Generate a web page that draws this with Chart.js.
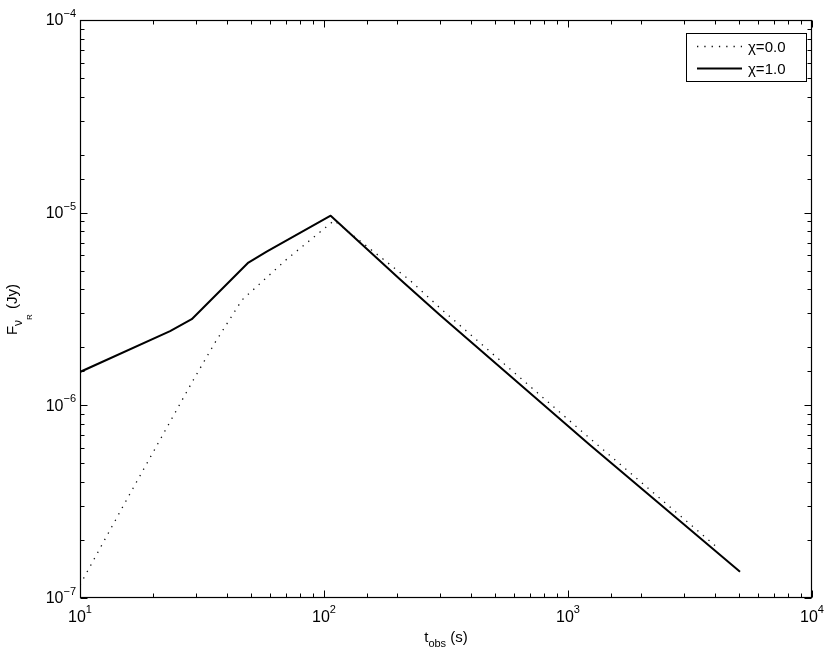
<!DOCTYPE html>
<html><head><meta charset="utf-8">
<style>html,body{margin:0;padding:0;background:#fff}canvas{display:block}</style>
<script src="https://cdn.jsdelivr.net/npm/chart.js@4"></script>
</head><body>
<canvas id="c" width="830" height="655" style="width:830px;height:655px"></canvas>
<script>
// ---- data ----
const tChi0 = [10, 15.24, 29.0, 35.7, 46.1, 70.3, 110, 224, 303, 1175, 4150];
const fChi0 = [1.17e-7, 3.10e-7, 1.34e-6, 2.11e-6, 3.52e-6, 5.73e-6, 9.1e-6, 4.48e-6, 3.15e-6, 7.08e-7, 1.80e-7];
const tChi1 = [10, 23.4, 28.7, 49.0, 58.2, 106.5, 204.7, 298.5, 1230, 5070];
const fChi1 = [1.49e-6, 2.43e-6, 2.80e-6, 5.51e-6, 6.28e-6, 9.65e-6, 4.51e-6, 2.94e-6, 6.23e-7, 1.37e-7];
const seriesLabels = ['\u03C7=0.0', '\u03C7=1.0'];
const xTickExponents = ['1', '2', '3', '4'];
const yTickExponents = ['\u22127', '\u22126', '\u22125', '\u22124'];
const xMin = 10, xMax = 1e4, yMin = 1e-7, yMax = 1e-4;

const FONT = '"Liberation Sans", Arial, Helvetica, sans-serif';
const toPts = (ts, fs) => ts.map((t, i) => ({x: t, y: fs[i]}));

function isDecade(v) {
  const l = Math.log10(v);
  return Math.abs(l - Math.round(l)) < 1e-9;
}

const framePlugin = {
  id: 'matlabFrame',
  afterDraw(chart) {
    const ctx = chart.ctx;
    const a = chart.chartArea;
    const xs = chart.scales.x, ys = chart.scales.y;
    const L = Math.round(a.left) + 0.5, R = Math.round(a.right) - 0.5;
    const T = Math.round(a.top) + 0.5, B = Math.round(a.bottom) - 0.5;
    ctx.save();
    ctx.strokeStyle = '#000';
    ctx.lineWidth = 1.2;
    ctx.setLineDash([]);
    ctx.strokeRect(L, T, R - L, B - T);
    // ticks (inward, on all four sides)
    ctx.lineWidth = 1;
    ctx.beginPath();
    xs.ticks.forEach(tk => {
      const v = tk.value;
      if (v < xMin || v > xMax) return;
      const px = Math.round(xs.getPixelForValue(v)) + 0.5;
      const len = isDecade(v) ? 7 : 4;
      ctx.moveTo(px, B); ctx.lineTo(px, B - len);
      ctx.moveTo(px, T); ctx.lineTo(px, T + len);
    });
    ys.ticks.forEach(tk => {
      const v = tk.value;
      if (v < yMin * 0.999 || v > yMax * 1.001) return;
      const py = Math.round(ys.getPixelForValue(v)) + 0.5;
      const len = isDecade(v) ? 7 : 4;
      ctx.moveTo(L, py); ctx.lineTo(L + len, py);
      ctx.moveTo(R, py); ctx.lineTo(R - len, py);
    });
    ctx.stroke();

    // tick labels 10^n
    ctx.fillStyle = '#000';
    ctx.textBaseline = 'middle';
    ctx.textAlign = 'left';
    const baseFont = '16px ' + FONT, expFont = '11px ' + FONT;
    xTickExponents.forEach(e => {
      const v = Math.pow(10, Number(e));
      const px = xs.getPixelForValue(v);
      ctx.font = baseFont; const bw = ctx.measureText('10').width;
      ctx.font = expFont; const ew = ctx.measureText(e).width;
      const x0 = px - (bw + ew) / 2;
      ctx.font = baseFont; ctx.fillText('10', x0, a.bottom + 20);
      ctx.font = expFont; ctx.fillText(e, x0 + bw, a.bottom + 12);
    });
    yTickExponents.forEach(e => {
      const v = Math.pow(10, Number(e.replace('\u2212', '-')));
      const py = ys.getPixelForValue(v);
      ctx.font = baseFont; const bw = ctx.measureText('10').width;
      ctx.font = expFont; const ew = ctx.measureText(e).width;
      const x0 = a.left - 4 - bw - ew;
      ctx.font = baseFont; ctx.fillText('10', x0, py + 1);
      ctx.font = expFont; ctx.fillText(e, x0 + bw, py - 6);
    });

    // x title: t_obs (s)
    ctx.textBaseline = 'alphabetic';
    const tf = '15px ' + FONT, sf = '11px ' + FONT;
    ctx.font = tf; const w1 = ctx.measureText('t').width, w3 = ctx.measureText(' (s)').width;
    ctx.font = sf; const w2 = ctx.measureText('obs').width;
    let xx = (a.left + a.right) / 2 - (w1 + w2 + w3) / 2;
    ctx.font = tf; ctx.fillText('t', xx, 642); xx += w1;
    ctx.font = sf; ctx.fillText('obs', xx, 647); xx += w2;
    ctx.font = tf; ctx.fillText(' (s)', xx, 642);

    // y title: F_{nu_R} (Jy)
    ctx.save();
    ctx.translate(17, (a.top + a.bottom) / 2 + 1);
    ctx.rotate(-Math.PI / 2);
    const yf = '15px ' + FONT, nf = '12px ' + FONT, rf = '8px ' + FONT;
    ctx.font = yf; const a1 = ctx.measureText('F').width, a4 = ctx.measureText(' (Jy)').width;
    ctx.font = nf; const a2 = ctx.measureText('\u03BD').width;
    ctx.font = rf; const a3 = ctx.measureText('R').width;
    let yy = -(a1 + a2 + a3 + a4) / 2;
    ctx.font = yf; ctx.fillText('F', yy, 0); yy += a1;
    ctx.font = nf; ctx.fillText('\u03BD', yy, 5); yy += a2;
    ctx.font = rf; ctx.fillText('R', yy, 15); yy += a3 + 1;
    ctx.font = yf; ctx.fillText(' (Jy)', yy, 0);
    ctx.restore();

    // legend box
    const lx = 686.5, ly = 33.5, lw = 120, lh = 48;
    ctx.fillStyle = '#fff';
    ctx.fillRect(lx, ly, lw, lh);
    ctx.strokeStyle = '#000'; ctx.lineWidth = 1;
    ctx.strokeRect(lx, ly, lw, lh);
    ctx.font = '15px ' + FONT;
    ctx.textBaseline = 'middle';
    const rows = [46.5, 68.5];
    chart.data.datasets.forEach((ds, i) => {
      ctx.save();
      ctx.strokeStyle = ds.borderColor;
      ctx.lineWidth = ds.borderWidth;
      ctx.setLineDash(ds.borderDash || []);
      ctx.beginPath();
      ctx.moveTo(697, rows[i]); ctx.lineTo(742, rows[i]);
      ctx.stroke();
      ctx.restore();
      ctx.fillStyle = '#000';
      ctx.fillText(ds.label, 748, rows[i] + 1);
    });
    ctx.restore();
  }
};

new Chart(document.getElementById('c'), {
  type: 'line',
  data: {
    datasets: [
      { label: seriesLabels[0], data: toPts(tChi0, fChi0), borderColor: '#111', borderWidth: 1.3,
        borderDash: [1.3, 6], pointRadius: 0, fill: false, tension: 0 },
      { label: seriesLabels[1], data: toPts(tChi1, fChi1), borderColor: '#000', borderWidth: 2,
        borderJoinStyle: 'round', pointRadius: 0, fill: false, tension: 0 }
    ]
  },
  options: {
    responsive: false,
    animation: false,
    devicePixelRatio: 1,
    layout: { padding: { top: 20, right: 18, left: 0, bottom: 0 } },
    plugins: { legend: { display: false }, tooltip: { enabled: false } },
    scales: {
      x: { type: 'logarithmic', min: xMin, max: xMax,
           ticks: { display: false }, grid: { display: false }, border: { display: false },
           afterFit: s => { s.height = 57; } },
      y: { type: 'logarithmic', min: yMin, max: yMax,
           ticks: { display: false }, grid: { display: false }, border: { display: false },
           afterFit: s => { s.width = 80; } }
    }
  },
  plugins: [framePlugin]
});
</script>
</body></html>
